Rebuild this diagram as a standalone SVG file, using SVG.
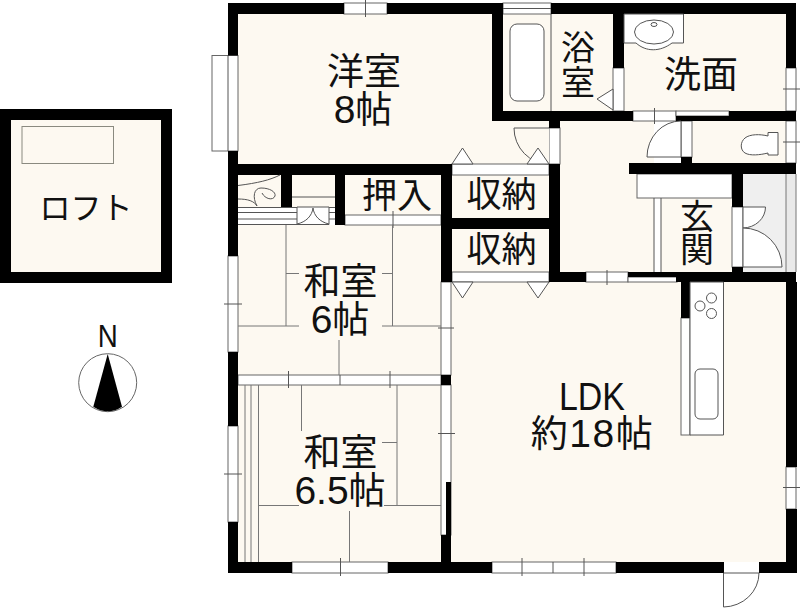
<svg xmlns="http://www.w3.org/2000/svg" width="800" height="608" viewBox="0 0 800 608">
<style>
.floor{fill:#fdf9f1}
.wall{fill:#000}
.win{fill:#fff;stroke:#666;stroke-width:1}
.ln{fill:none;stroke:#555;stroke-width:1}
.tat{fill:none;stroke:#777;stroke-width:1}
.fx{fill:#fff;stroke:#555;stroke-width:1}
.t{font-family:"Noto Sans CJK JP","Liberation Sans",sans-serif;font-size:37px;fill:#111;text-anchor:middle}
.s{font-family:"Noto Sans CJK JP","Liberation Sans",sans-serif;font-size:35px;fill:#111;text-anchor:middle}
.v{font-family:"Noto Sans CJK JP","Liberation Sans",sans-serif;font-size:34px;fill:#111;text-anchor:middle}
.l{font-family:"Liberation Sans","Noto Sans CJK JP",sans-serif;font-size:39px;fill:#111;text-anchor:middle}
.j{font-family:"Noto Sans CJK JP",sans-serif;font-size:37px}
</style>
<rect width="800" height="608" fill="#fff"/>
<g id="floors">
<rect class="floor" x="238" y="14" width="311" height="150"/>
<rect class="floor" x="503" y="14" width="110" height="97"/>
<rect class="floor" x="624" y="14" width="162" height="97"/>
<rect class="floor" x="560" y="121" width="94" height="151"/>
<rect class="floor" x="692" y="121" width="94" height="42"/>
<rect class="floor" x="661" y="198" width="71" height="74"/>
<rect class="floor" x="238" y="175" width="43" height="32"/>
<rect class="floor" x="292" y="175" width="43" height="32"/>
<rect class="floor" x="345" y="175" width="96" height="40"/>
<rect class="floor" x="452" y="175" width="97" height="43"/>
<rect class="floor" x="452" y="229" width="97" height="43"/>
<rect class="floor" x="238" y="225" width="203" height="150"/>
<rect class="floor" x="238" y="385" width="203" height="177"/>
<rect class="floor" x="451" y="282" width="335" height="280"/>
<rect class="floor" x="11" y="120" width="150" height="152"/>
</g>
<g id="entry-tile">
<rect x="743" y="174" width="43" height="98" fill="#efefef"/>
<rect x="786" y="174" width="10" height="98" fill="#e9e9e9"/>
<path class="tat" d="M786 174V272M796 174V272"/>
</g>
<g id="windows">
<rect class="win" x="344" y="3" width="43" height="11"/>
<rect class="win" x="212" y="55.500" width="26" height="95.500"/>
<path class="ln" d="M228 55.500V151"/>
<rect class="win" x="503" y="3" width="48" height="11"/>
<path class="ln" d="M503 8.500H551"/>
<rect class="win" x="228" y="256" width="10" height="96"/>
<rect class="win" x="228" y="426" width="10" height="96"/>
<rect class="win" x="292" y="562" width="96" height="11"/>
<rect class="win" x="492" y="562" width="124" height="11"/>
<rect class="win" x="633" y="111" width="43" height="10"/>
<rect class="win" x="676" y="111" width="53" height="5"/>
<rect class="win" x="786" y="68" width="10" height="43"/>
<rect class="win" x="786" y="121" width="10" height="42"/>
<rect class="win" x="786" y="467" width="10" height="42"/>
<rect class="win" x="586" y="272" width="42" height="10"/>
<rect class="win" x="628" y="277" width="49" height="5"/>
<rect class="win" x="441" y="282" width="10" height="93"/>
<rect class="win" x="441" y="385" width="10" height="150"/>
<rect class="win" x="238" y="375" width="203" height="10"/>
<rect class="win" x="345" y="215" width="96" height="10"/>
<rect class="win" x="452" y="164" width="97" height="11"/>
<rect class="win" x="452" y="272" width="97" height="10"/>
<rect class="win" x="613" y="68" width="11" height="43"/>
<rect class="win" x="549" y="128" width="11" height="36"/>
<rect class="win" x="681" y="121" width="11" height="36"/>
<rect class="win" x="732" y="207" width="11" height="60"/>
<rect class="win" x="681" y="318" width="9" height="117"/>
<rect class="win" x="637" y="174" width="95" height="24"/>
<path class="ln" d="M553 562V573"/>
<path class="ln" d="M365.500 0V17M654.500 108V124M783 89H800M783 142H800M783 487.500H800M607 270V285M224 304H242M224 474H242M393 211V228M288.500 371V388M340 375V385M390 371V388M438 328H454M438 433.500H455M340.500 558V576M522 558V576M584 558V576"/>
</g>
<g id="walls">
<rect class="wall" x="228" y="3" width="116" height="11"/>
<rect class="wall" x="387" y="3" width="116" height="11"/>
<rect class="wall" x="551" y="3" width="245" height="11"/>
<rect class="wall" x="228" y="3" width="10" height="52.500"/>
<rect class="wall" x="613" y="14" width="11" height="54"/>
<rect class="wall" x="492" y="14" width="11" height="107"/>
<rect class="wall" x="492" y="111" width="141" height="10"/>
<rect class="wall" x="549" y="121" width="11" height="7"/>
<rect class="wall" x="676" y="116" width="120" height="5"/>
<rect class="wall" x="729" y="111" width="67" height="10"/>
<rect class="wall" x="681" y="157" width="11" height="6"/>
<rect class="wall" x="629" y="163" width="167" height="11"/>
<rect class="wall" x="732" y="174" width="11" height="33"/>
<rect class="wall" x="732" y="267" width="11" height="5"/>
<rect class="wall" x="549" y="164" width="11" height="108"/>
<rect class="wall" x="549" y="272" width="37" height="10"/>
<rect class="wall" x="628" y="272" width="49" height="5"/>
<rect class="wall" x="676" y="272" width="120" height="10"/>
<rect class="wall" x="681" y="282" width="9" height="36"/>
<rect class="wall" x="228" y="151" width="10" height="105"/>
<rect class="wall" x="228" y="352" width="10" height="74"/>
<rect class="wall" x="228" y="522" width="10" height="51"/>
<rect class="wall" x="228" y="164" width="223" height="11"/>
<rect class="wall" x="281" y="175" width="11" height="32"/>
<rect class="wall" x="335" y="175" width="10" height="50"/>
<rect class="wall" x="441" y="164" width="11" height="118"/>
<rect class="wall" x="451" y="218" width="98" height="11"/>
<rect class="wall" x="441" y="375" width="10" height="10"/>
<rect class="wall" x="446" y="482" width="5" height="53"/>
<rect class="wall" x="441" y="535" width="10" height="27"/>
<rect class="wall" x="228" y="562" width="64" height="11"/>
<rect class="wall" x="388" y="562" width="104" height="11"/>
<rect class="wall" x="616" y="562" width="108" height="11"/>
<rect class="wall" x="759" y="562" width="38" height="11"/>
<rect class="wall" x="786" y="282" width="11" height="185"/>
<rect class="wall" x="786" y="509" width="11" height="53"/>
<rect class="wall" x="786" y="14" width="10" height="54"/>
<rect class="wall" x="786" y="111" width="10" height="10"/>
<rect class="wall" x="0" y="109" width="172" height="11"/>
<rect class="wall" x="0" y="272" width="172" height="11"/>
<rect class="wall" x="0" y="120" width="11" height="152"/>
<rect class="wall" x="161" y="120" width="11" height="152"/>
</g>
<g id="fixtures">
<rect class="fx" x="510" y="24" width="34" height="77" rx="7"/>
<path class="ln" d="M551 14V111"/>
<path class="fx" d="M597 99L613 89V110Z"/>
<path class="fx" d="M624 14H683.500V43H672C660 52 646 52 636 43H624Z"/>
<ellipse class="fx" cx="654" cy="32" rx="19.500" ry="12"/>
<ellipse class="fx" cx="654" cy="24.500" rx="3" ry="2"/>
<path class="fx" d="M768 136C760 134 750 134 745 138C740 142 740 150 745 153C750 156 760 155 768 153V155H778V132.500H768Z"/>
<path class="fx" d="M690 282H723.500V435H690Z"/>
<circle class="fx" cx="700" cy="306" r="5"/>
<circle class="fx" cx="711.500" cy="298" r="5"/>
<circle class="fx" cx="711.500" cy="313.500" r="5"/>
<rect class="fx" x="695" y="369" width="23" height="50" rx="5"/>
<rect x="22" y="126.500" width="91.500" height="37" fill="none" stroke="#8a8a80" stroke-width="1"/>
</g>
<g id="doors">
<path class="fx" d="M681 121A34 36 0 0 0 647 157H681Z"/>
<path class="floor" d="M514 128H549V164A35 36 0 0 1 514 128Z"/>
<path class="ln" d="M514 128H549M514 128A35 36 0 0 0 549 164"/>
<path class="fx" d="M452 164L462.500 148L473 164Z"/>
<path class="fx" d="M527 164L538 148L549 164Z"/>
<path class="fx" d="M452 282L462.500 298L473 282Z"/>
<path class="fx" d="M527 282L538 298L549 282Z"/>
<path class="fx" d="M743 207H765.500A23 21 0 0 1 743 228Z"/>
<path class="fx" d="M743 228A39 39 0 0 1 782 267H743Z"/>
<path class="fx" d="M723.500 573H759A36 34 0 0 1 723.500 607Z"/>
<path class="fx" d="M297 207H329V224.500H297Z"/>
<path class="ln" d="M297 224C306 222 312 216 313 208M329 224C320 222 314 216 313 208"/>
</g>
<g id="stairs">
<path class="ln" d="M238 207.500H297M238 212.500H297M238 219H297M238 224.500H297M329 207.500H335M329 212.500H335M329 219H335M292 197H335M654 198V272M661 198V272"/>
<path class="ln" d="M238 185.500C258 183 270 180 280 175M238 199C248 199 254 201 257 206C252 197 254 188 261 188C270 188 276 192 275 196C273 201 265 199 262 193"/>
</g>
<g id="tatami">
<path class="tat" d="M286 225V326M238 326H299M286 273.500H299M392.500 225V326M382 273.500H392.500M382 326H441M339 340V375"/>
<path class="tat" d="M245 385V562M251 385V562M258.500 385V562M301.500 385V431M397 385V505.500M382 442.500H397M258.500 505.500H299M384 505.500H441M349.500 511V562"/>
</g>
<g id="compass">
<circle cx="107.700" cy="382.700" r="29" fill="#fff" stroke="#666" stroke-width="1"/>
<path d="M107.700 354L122 406.700Q108 416 93.300 406.700Z" fill="#000"/>
</g>
<g id="labels">
<text class="l"><tspan class="j" x="364" y="85">洋室</tspan><tspan x="363" y="123">8<tspan class="j">帖</tspan></tspan></text>
<text class="v"><tspan x="578" y="60">浴</tspan><tspan x="578" y="95">室</tspan></text>
<text class="t" x="701" y="88">洗面</text>
<text class="s" x="397" y="208">押入</text>
<text class="s" x="501.500" y="207">収納</text>
<text class="s" x="501.500" y="262">収納</text>
<text class="v"><tspan x="697" y="229">玄</tspan><tspan x="697" y="262">関</tspan></text>
<text class="l"><tspan class="j" x="340.500" y="295">和室</tspan><tspan x="340" y="333">6<tspan class="j">帖</tspan></tspan></text>
<text class="l"><tspan class="j" x="340.500" y="466">和室</tspan><tspan x="340" y="504">6.5<tspan class="j">帖</tspan></tspan></text>
<text class="l"><tspan x="592" y="410" textLength="66" lengthAdjust="spacingAndGlyphs">LDK</tspan><tspan x="592.500" y="447" letter-spacing="1.500"><tspan class="j">約</tspan>18<tspan class="j">帖</tspan></tspan></text>
<text class="t" x="86" y="219" style="font-size:31px">ロフト</text>
<text class="l" x="107.700" y="347" style="font-size:31px" textLength="20" lengthAdjust="spacingAndGlyphs">N</text>
</g>
</svg>
